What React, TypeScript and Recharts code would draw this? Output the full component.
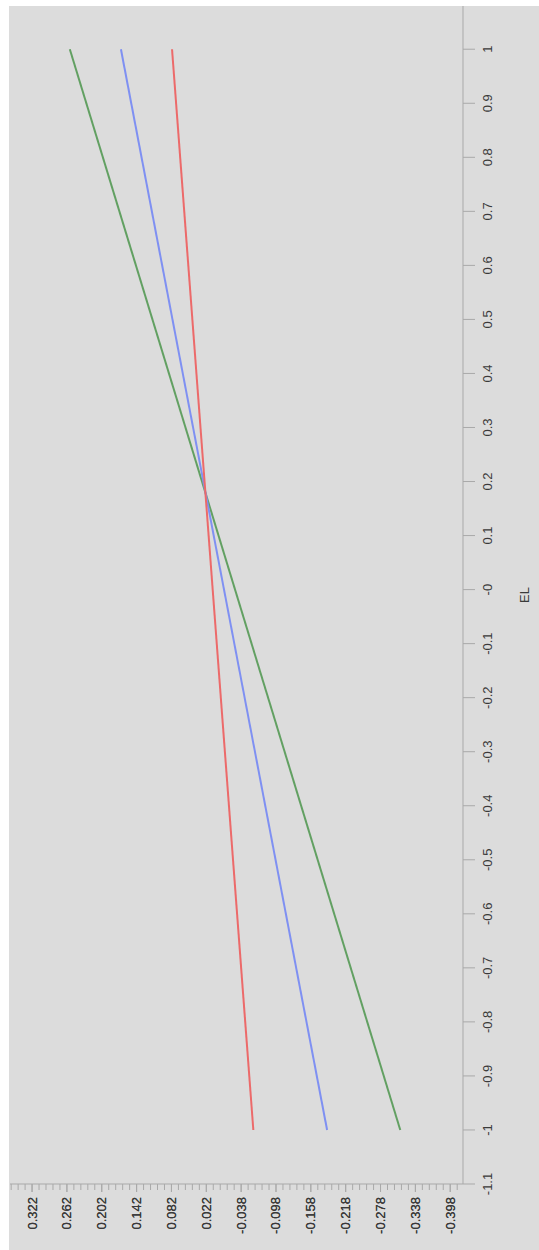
import React from 'react';
import { LineChart, Line, XAxis, YAxis } from 'recharts';

// EL axis (drawn horizontally, then the whole chart is turned a quarter turn)
const elTicks = [-1.1, -1, -0.9, -0.8, -0.7, -0.6, -0.5, -0.4, -0.3, -0.2, -0.1, 0, 0.1, 0.2, 0.3, 0.4, 0.5, 0.6, 0.7, 0.8, 0.9, 1];
const elTickLabels = ['-1.1', '-1', '-0.9', '-0.8', '-0.7', '-0.6', '-0.5', '-0.4', '-0.3', '-0.2', '-0.1', '-0', '0.1', '0.2', '0.3', '0.4', '0.5', '0.6', '0.7', '0.8', '0.9', '1'];

const valueTicks = [0.322, 0.262, 0.202, 0.142, 0.082, 0.022, -0.038, -0.098, -0.158, -0.218, -0.278, -0.338, -0.398];
const valueTickLabels = ['0.322', '0.262', '0.202', '0.142', '0.082', '0.022', '-0.038', '-0.098', '-0.158', '-0.218', '-0.278', '-0.338', '-0.398'];

const elPoints = [-1, 1];
const greenValues = [-0.312, 0.257];
const blueValues = [-0.186, 0.169];
const redValues = [-0.059, 0.081];

const data = elPoints.map((el, i) => ({
  el,
  green: greenValues[i],
  blue: blueValues[i],
  red: redValues[i],
}));

// small ruler marks between the value labels
const minorTicks: number[] = [];
for (let v = 0.358; v > -0.42; v -= 0.012) minorTicks.push(Math.round(v * 1000) / 1000);
const allValueTicks = [...minorTicks, ...valueTicks];

const W = 1250;
const H = 539;
const FONT = '"Liberation Sans", Arial, sans-serif';
const TEXT = '#3a3a3a';
const AXIS = '#a9a9a9';

function elLabel(v: number) {
  const i = elTicks.findIndex((t) => Math.abs(t - v) < 1e-6);
  return i >= 0 ? elTickLabels[i] : '';
}

function ValueTick(props: any) {
  const { x, y, payload } = props;
  const i = valueTicks.findIndex((t) => Math.abs(t - payload.value) < 1e-6);
  const major = i >= 0;
  return (
    <g>
      <line x1={x - (major ? 8 : 6)} x2={x} y1={y} y2={y} stroke={AXIS} strokeWidth={1} />
      {major && (
        <text
          x={x - 13}
          y={y}
          textAnchor="end"
          dominantBaseline="central"
          fontSize={13}
          fontFamily={FONT}
          fill={TEXT}
        >
          {valueTickLabels[i]}
        </text>
      )}
    </g>
  );
}

export default function App() {
  return (
    <div style={{ position: 'absolute', left: 0, top: 0, width: H, height: W, overflow: 'hidden', background: '#ffffff' }}>
      <div
        style={{
          position: 'absolute',
          left: 0,
          top: 0,
          width: W,
          height: H,
          transformOrigin: '0 0',
          transform: `translate(0px, ${W}px) rotate(-90deg)`,
        }}
      >
        <div style={{ position: 'absolute', left: 0, top: 9, width: W - 6, height: H - 9, background: '#dcdcdc' }} />
        <div style={{ position: 'absolute', left: 0, top: 0 }}>
          <LineChart width={W} height={H} data={data} margin={{ top: 10, right: 6, left: 0, bottom: 0 }}>
            <XAxis
              dataKey="el"
              type="number"
              domain={[-1.1, 1.08]}
              ticks={elTicks}
              interval={0}
              allowDataOverflow
              tickFormatter={elLabel}
              height={76}
              tickSize={12}
              tickMargin={8}
              stroke={AXIS}
              tick={{ fill: TEXT, fontSize: 13, fontFamily: FONT }}
              label={{ value: 'EL', position: 'insideBottom', offset: 10, fill: TEXT, fontSize: 13, fontFamily: FONT }}
            />
            <YAxis
              type="number"
              domain={[-0.42, 0.36]}
              ticks={allValueTicks}
              interval={0}
              allowDataOverflow
              width={66}
              tickLine={false}
              tickSize={0}
              tickMargin={0}
              stroke={AXIS}
              tick={<ValueTick />}
            />
            <Line type="linear" dataKey="green" stroke="#62a062" strokeWidth={2} dot={false} isAnimationActive={false} />
            <Line type="linear" dataKey="blue" stroke="#7f90f2" strokeWidth={2} dot={false} isAnimationActive={false} />
            <Line type="linear" dataKey="red" stroke="#ec6a6a" strokeWidth={2} dot={false} isAnimationActive={false} />
          </LineChart>
        </div>
      </div>
    </div>
  );
}
